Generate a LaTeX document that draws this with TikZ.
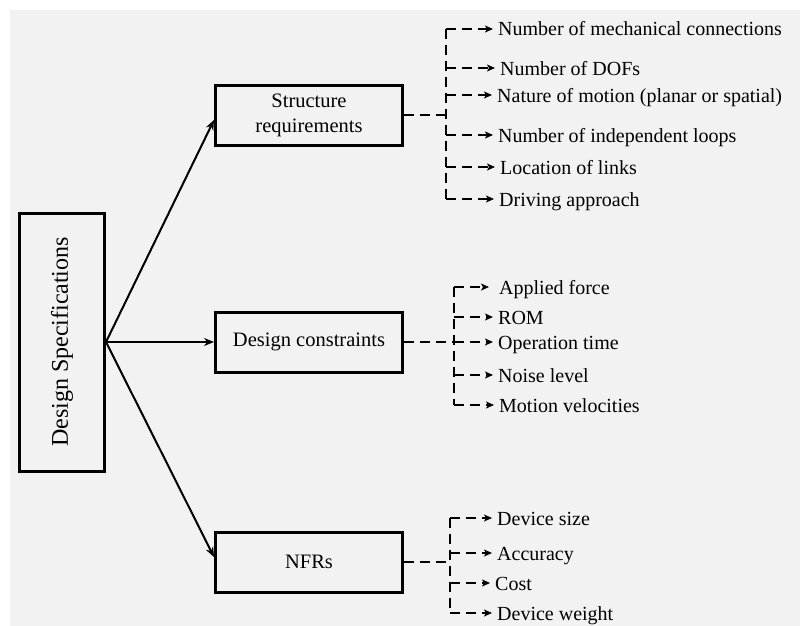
\documentclass[tikz,border=0pt]{standalone}
\usepackage{fontspec}
\setmainfont{Liberation Serif}
\usetikzlibrary{arrows.meta}
\definecolor{bgcol}{RGB}{242,242,242}
\begin{document}
\begin{tikzpicture}[x=1pt,y=-1pt,
  box/.style={draw,line width=3pt,minimum width=187pt,minimum height=60pt,inner sep=0pt,align=center,font=\fontsize{20.5}{25}\selectfont},
  item/.style={anchor=west,inner xsep=5pt,inner ysep=0pt,text height=14pt,text depth=0pt,font=\fontsize{20}{24}\selectfont},
  link/.style={line width=2pt,-{Stealth[length=10pt,width=8pt]}},
  dashline/.style={line width=2pt,dash pattern=on 10pt off 6pt},
  dasharrow/.style={dashline,-{Stealth[length=8pt,width=7pt,inset=2pt]}}]
\useasboundingbox (0,0) rectangle (800,626);
\fill[white] (0,0) rectangle (800,626);
\fill[bgcol] (10,10) rectangle (800,626);

% main box
\node[draw,line width=3pt,minimum width=85pt,minimum height=258pt,inner sep=0pt,font=\fontsize{24}{28}\selectfont] (ds) at (62,342) {\rotatebox{90}{Design Specifications}};

% category boxes
\node[box] (sr) at (309,115) {Structure\\requirements};
\node[box] (dc) at (309,342) {Design constraints};
\node[box] (nf) at (309,562) {NFRs};

\draw[link] (ds.east) -- ([yshift=-5pt]sr.west);
\draw[link] (ds.east) -- (dc.west);
\draw[link] (ds.east) -- ([yshift=5pt]nf.west);

% group 1
\coordinate (h1) at (446,115);
\node[item] (a1) at (493,29) {Number of mechanical connections};
\node[item] (a2) at (495,68) {Number of DOFs};
\node[item] (a3) at (492,95) {Nature of motion (planar or spatial)};
\node[item] (a4) at (493,135) {Number of independent loops};
\node[item] (a5) at (495,167) {Location of links};
\node[item] (a6) at (494,199) {Driving approach};
\draw[dashline] (sr.east) -- (h1);
\draw[dashline] (h1 |- a1) -- (h1 |- a6);
\foreach \n in {a1,a2,a3,a4,a5,a6} \draw[dasharrow] (h1 |- \n) -- (\n);

% group 2
\coordinate (h2) at (454,342);
\node[item,inner xsep=10pt] (b1) at (489,287) {Applied force};
\node[item] (b2) at (493,317) {ROM};
\node[item] (b3) at (493,342) {Operation time};
\node[item] (b4) at (493,375) {Noise level};
\node[item] (b5) at (494,405) {Motion velocities};
\draw[dashline] (dc.east) -- (h2);
\draw[dashline] (h2 |- b1) -- (h2 |- b5);
\foreach \n in {b1,b2,b3,b4,b5} \draw[dasharrow] (h2 |- \n) -- (\n);

% group 3
\coordinate (h3) at (450,562);
\node[item] (c1) at (492,518) {Device size};
\node[item] (c2) at (492,553) {Accuracy};
\node[item] (c3) at (490,583) {Cost};
\node[item] (c4) at (492,613) {Device weight};
\draw[dashline] (nf.east) -- (h3);
\draw[dashline] (h3 |- c1) -- (h3 |- c4);
\foreach \n in {c1,c2,c3,c4} \draw[dasharrow] (h3 |- \n) -- (\n);
\end{tikzpicture}
\end{document}
